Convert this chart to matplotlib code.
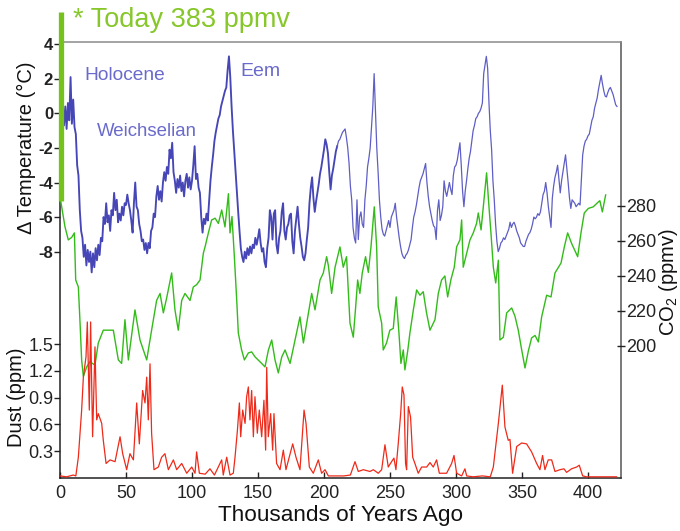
import numpy as np
import matplotlib
matplotlib.use("Agg")
import matplotlib.pyplot as plt

plt.rcParams['font.family'] = ['Liberation Sans', 'DejaVu Sans']
plt.rcParams['mathtext.fontset'] = 'custom'
plt.rcParams['mathtext.rm'] = 'Liberation Sans'
plt.rcParams['mathtext.default'] = 'rm'

# ---------------- data ----------------
# Temperature anomaly (deg C), one value per thousand years from 0 ka
temp_dC = [
    0.3, -0.5, 0.7, -0.7, 0.4, -0.9, 0.6, -0.4, 2.1, -0.6,
    0.8, -0.8, -1.2, -3.0, -3.6, -5.6, -6.8, -7.2, -8.3, -7.6,
    -8.8, -7.9, -8.6, -8.0, -9.2, -8.1, -8.9, -7.8, -8.5, -7.6,
    -8.2, -7.2, -7.4, -6.0, -6.4, -5.2, -6.3, -5.9, -6.8, -5.6,
    -5.9, -4.6, -5.6, -5.0, -6.3, -5.8, -6.2, -5.4, -5.9, -5.2,
    -5.3, -4.7, -5.2, -5.6, -6.2, -6.9, -5.2, -4.0, -5.4, -5.6,
    -6.4, -6.8, -7.4, -7.3, -7.9, -7.5, -8.1, -7.5, -7.8, -6.8,
    -6.6, -5.8, -6.0, -4.8, -4.2, -5.0, -4.5, -5.1, -4.0, -3.4,
    -3.9, -3.1, -3.5, -2.1, -2.6, -1.7, -3.4, -3.9, -4.6, -3.8,
    -4.3, -3.6, -4.5, -4.0, -4.8, -3.9, -3.5, -4.3, -3.7, -4.4,
    -3.9, -3.0, -1.9, -3.8, -3.5, -4.3, -4.6, -6.0, -6.9, -6.1,
    -6.4, -5.8, -6.2, -5.0, -3.9, -3.1, -2.4, -1.6, -1.1, -0.7,
    -0.3, -0.1, 0.4, 0.7, 1.0, 1.3, 1.5, 2.5, 3.3, 2.1,
    0.4, -1.0, -2.2, -3.5, -4.5, -5.7, -6.8, -7.8, -8.3, -8.6,
    -8.0, -8.4, -7.8, -8.2, -7.7, -8.1, -7.6, -7.8, -7.2, -7.6,
    -7.2, -6.7, -7.5, -8.0, -7.8, -8.6, -8.9, -7.8, -7.2, -5.6,
    -6.0, -7.3, -5.8, -5.6, -7.6, -8.1, -7.2, -6.8, -5.7, -5.2,
    -6.8, -7.3, -6.6, -6.4, -5.9, -5.8, -7.4, -8.1, -6.8, -6.1,
    -5.4, -6.4, -7.2, -7.7, -8.3, -8.5, -8.1, -7.3, -6.6, -5.2,
    -4.3, -3.7, -4.9, -5.7, -5.1, -4.6, -4.1, -3.5, -3.1, -2.6,
    -2.1, -1.5, -1.8, -2.3, -3.4, -4.4, -3.6, -3.2, -2.7, -2.2,
    -1.9, -1.6, -1.5, -1.3, -1.1, -1.0, -0.9, -1.4, -2.0, -2.9,
    -4.2, -5.0, -6.6, -7.2, -7.5, -5.0, -7.3, -6.0, -5.7, -6.4,
    -6.6, -5.0, -4.2, -3.1, -2.6, -2.0, -0.8, 0.4, 2.3, 0.2,
    -2.0, -3.4, -5.0, -6.0, -6.7, -7.0, -7.1, -6.8, -6.5, -6.2,
    -6.6, -6.0, -5.8, -5.6, -5.2, -6.0, -6.6, -7.2, -7.7, -8.1,
    -8.3, -8.4, -8.2, -8.1, -7.9, -7.6, -7.3, -6.6, -6.0, -5.7,
    -5.3, -4.8, -4.3, -3.9, -3.7, -3.5, -3.2, -2.9, -4.0, -4.8,
    -5.4, -5.8, -6.2, -6.5, -6.6, -7.3, -5.6, -5.0, -6.2, -5.9,
    -5.4, -3.9, -4.5, -4.8, -4.4, -4.0, -4.4, -4.7, -3.6, -3.1,
    -3.0, -2.7, -2.2, -1.7, -3.0, -4.5, -5.4, -4.5, -3.9, -3.2,
    -2.6, -2.2, -1.6, -1.0, -0.7, -0.3, -0.2, 0.0, 0.1, 0.3,
    0.6, 2.3, 2.8, 3.3, 2.6, 0.6, -1.0, -2.1, -3.9, -5.0,
    -6.4, -7.4, -8.0, -7.8, -7.5, -7.4, -7.2, -7.3, -7.1, -6.9,
    -6.7, -6.3, -6.6, -6.4, -6.3, -6.5, -6.8, -7.0, -7.2, -7.5,
    -7.6, -7.7, -7.7, -7.4, -7.2, -7.0, -6.9, -6.7, -6.4, -6.0,
    -6.1, -6.0, -5.8, -5.9, -5.7, -5.2, -4.7, -4.5, -4.0, -4.6,
    -5.4, -6.0, -6.6, -4.9, -4.2, -3.7, -3.4, -3.0, -3.8, -4.6,
    -3.9, -3.4, -2.9, -2.4, -3.2, -4.0, -4.9, -5.5, -5.0, -5.1,
    -5.2, -5.4, -5.3, -5.2, -5.3, -3.9, -2.4, -1.9, -1.6, -1.5,
    -1.3, -1.2, -0.8, -0.4, -0.2, 0.3, 0.6, 0.9, 1.4, 1.8,
    2.2, 1.7, 1.3, 1.0, 0.95, 1.2, 1.4, 1.5, 1.3, 1.1,
    0.8, 0.5, 0.4,
]
temp_age = np.arange(len(temp_dC))

co2_age = [0.5, 3.8, 6.3, 8.8, 10.9, 11.9, 13.9, 15.2, 16.4, 17.7, 20.2, 22.7, 26.5, 29, 32.8,
           40.4, 44.2, 46.7, 49.2, 51.8, 56.8, 60.6, 65.7, 69.4, 73.2, 75.8, 78.3, 80.8, 84.6,
           87.1, 89.6, 92.2, 94.7, 98.5, 101, 103.5, 106.1, 108.6, 109.9, 112.4, 114.9, 117.5,
           120, 122.5, 125, 127.6, 128.8, 130.3, 132.1, 133.9, 135.1, 137.6, 139.7, 142.7,
           145.2, 147.8, 152.8, 155.3, 157.9, 160.4, 162.9, 165.4, 168, 170.5, 174.3, 178.1,
           181.8, 184.4, 188.2, 190.7, 193.2, 197, 199.5, 202, 203.3, 205.8, 208.4, 212.1,
           214.6, 217.1, 219.7, 222.2, 224, 225.5, 227.2, 229, 231.5, 233.6, 235.6, 238.1,
           239.9, 241.1, 243.7, 244.9, 247.4, 249.9, 252.5, 254.7, 256.8, 258.3, 260.1, 261.3,
           263.4, 265.1, 267.7, 270.2, 272.7, 275.2, 277.7, 280.3, 284.1, 286.6, 289.1, 291.6,
           293.7, 296.2, 298.7, 300.5, 303, 304.3, 305.5, 308.1, 310.6, 313.1, 315.6, 316.9,
           319, 320.7, 323.2, 325, 326.5, 328.3, 330.1, 332.1, 333.3, 335.9, 338.4, 342.2,
           344.7, 347.2, 349.8, 352.3, 354.8, 357.3, 359.9, 362.4, 364.9, 368.7, 372, 375,
           379.6, 382.1, 384.6, 387.6, 392.2, 394.7, 397.2, 400.3, 404, 407.9, 409, 410.9, 413.4]
co2_ppmv = [283, 268, 260.6, 262, 264.6, 237.7, 233.7, 213, 192, 182.6, 188, 191, 189, 201.7, 209,
            209, 192, 190, 215, 192, 220.6, 203.4, 192, 209, 226, 230, 218.9, 227.4, 241.7,
            220.6, 209, 226, 230, 226, 233.7, 235, 237.7, 253, 256.6, 264.6, 272, 273,
            270, 277.7, 268, 287, 264.6, 274, 251, 226, 207.4, 197.7, 192, 196,
            196.6, 193.7, 190, 188, 197.7, 203.4, 192, 184.6, 193.7, 197.7, 190, 203.4,
            216.6, 201.7, 218.9, 230, 220.6, 237.7, 241.7, 251, 246, 230, 245, 256.6,
            245, 251, 213, 205, 222.3, 237.7, 230, 241.7, 251, 242, 256.6, 279.5,
            256.6, 222.3, 213, 197.7, 201.7, 209, 210, 228, 207.4, 190, 197.7, 186.3,
            197, 207.4, 220.6, 232, 229, 231, 218.9, 209, 215, 230, 237.7, 240,
            228, 238, 245, 256.6, 260.6, 272, 245, 253, 260.6, 264.6, 270, 276,
            266.3, 279.5, 298.9, 279.5, 264.6, 245, 236, 249, 203.4, 205, 218.9, 221.7,
            217, 209, 197.7, 187.4, 197, 204.6, 206, 202.3, 216.6, 229, 228, 241.7,
            247.4, 256.6, 264.6, 258.6, 251, 264.6, 276, 278.6, 279.5, 282.3, 283, 276.6, 286.3]

dust_age = [0, 5, 10, 12, 13.9, 16.4, 17.7, 19.7, 20.7, 22.2, 23.2, 24.7, 26.5, 27.8, 29.0, 31.6,
            32.8, 34.9, 37.9, 41.7, 45.5, 47.5, 50.5, 53.0, 55.6, 58.1, 60.1, 62.6, 64.4, 65.7,
            66.9, 68.2, 69.4, 71.2, 74.5, 77.0, 79.5, 82.1, 85.9, 88.4, 92.2, 96.0, 99.8, 102.3,
            103.5, 105.6, 110, 113.6, 117, 122.5, 123.7, 126.3, 128.8, 131.3, 132.6, 134.4,
            135.9, 136.9, 138.4, 140.2, 141.4, 142.7, 143.9, 145.2, 146.5, 147.7, 149.5, 151.0,
            152.8, 154.5, 155.8, 156.6, 157.8, 159.6, 161.1, 162.1, 164.1, 166.7, 169.2, 171.2,
            173.7, 176.3, 178.8, 181.8, 184.9, 186.4, 188.9, 191.9, 195.7, 198.2, 200.8, 203.3,
            212.1, 215, 220, 223.5, 226, 229.8, 234.8, 237.4, 241.1, 243.7, 246.2, 248.7, 251.2,
            253, 254.5, 256.3, 258.1, 259.3, 260.6, 261.8, 262.6, 263.9, 265.6, 267.2, 268.9,
            271.4, 274, 277.8, 280.3, 282.8, 285.3, 287.4, 292.9, 296.7, 298.5, 300.5, 304.3,
            306.8, 308.1, 313, 320, 326, 328.3, 332.1, 335.1, 337.1, 339.6, 340.9, 342.9, 346,
            349.7, 353.5, 357.3, 361.1, 363.6, 365.6, 367.4, 369.9, 372.5, 375, 378.8, 381.8,
            383.8, 387.6, 391.4, 393.4, 396, 399, 410, 421.7]
dust_ppm = [0.02, 0.01, 0.03, 0.02, 0.23, 0.76, 1.13, 1.36, 1.75, 0.76, 1.75, 0.46, 1.47, 0.65, 0.72, 0.61,
            0.42, 0.16, 0.2, 0.18, 0.46, 0.27, 0.09, 0.27, 0.2, 0.84, 0.38, 0.98, 0.84, 1.13,
            0.65, 1.28, 0.5, 0.09, 0.12, 0.23, 0.27, 0.09, 0.2, 0.09, 0.16, 0.05, 0.12, 0.05,
            0.29, 0.05, 0.04, 0.1, 0.03, 0.2, 0.03, 0.23, 0.03, 0.05, 0.23, 0.53,
            0.84, 0.46, 0.76, 0.61, 0.91, 1.02, 0.65, 0.98, 0.46, 0.91, 0.5, 0.76,
            0.46, 0.87, 0.31, 1.24, 0.46, 0.72, 0.31, 0.72, 0.16, 0.09, 0.31, 0.09,
            0.23, 0.38, 0.23, 0.09, 0.76, 0.61, 0.12, 0.05, 0.2, 0.05, 0.09, 0.02,
            0.02, 0.02, 0.03, 0.18, 0.07, 0.09, 0.07, 0.09, 0.05, 0.09, 0.37, 0.12, 0.18,
            0.22, 0.09, 0.39, 0.72, 1.02, 0.93, 0.16, 0.09, 0.8, 0.68, 0.23, 0.16,
            0.05, 0.12, 0.12, 0.17, 0.12, 0.2, 0.05, 0.05, 0.16, 0.25, 0.05, 0.02,
            0.1, 0.02, 0.01, 0.02, 0.01, 0.12, 0.61, 1.04, 0.57, 0.42, 0.43, 0.05, 0.35,
            0.39, 0.38, 0.29, 0.16, 0.09, 0.25, 0.09, 0.2, 0.2, 0.07, 0.09, 0.1,
            0.06, 0.1, 0.12, 0.14, 0.02, 0.01, 0.01, 0.01]

x_ticks = [0, 50, 100, 150, 200, 250, 300, 350, 400]
temp_ticks = [-8, -6, -4, -2, 0, 2, 4]
temp_ticklabels = ['-8', '-6', '-4', '-2', '0', '2', '4']
co2_ticks = [200, 220, 240, 260, 280]
dust_ticks = [0.3, 0.6, 0.9, 1.2, 1.5]
dust_ticklabels = ['0.3', '0.6', '0.9', '1.2', '1.5']
today_label = '* Today 383 ppmv'

# ---------------- layout / style ----------------
W, H = 680, 531
fig = plt.figure(figsize=(W / 100, H / 100), dpi=100)
L, R, T, B = 60, 620.7, 42, 477.7
rect = [L / W, 1 - B / H, (R - L) / W, (B - T) / H]

TEMP_C = '#4646B6'
TEMP_C2 = '#5E5EC6'
CO2_C = '#33BB1A'
DUST_C = '#EE2A1A'
LABEL_C = '#6A6ACC'
TODAY_C = '#86C72A'
BAR_C = '#76C11C'
SPLIT = 210  # dense (thick) record before this age, sparser after

ax_t = fig.add_axes(rect)
ax_c = ax_t.twinx()
ax_d = ax_t.twinx()

ax_t.set_xlim(0, 424.8)
ax_t.set_ylim(-21.08, 4.13)
ax_c.set_ylim(124.7, 373.7)
ax_d.set_ylim(0, 4.896)

ax_t.plot(temp_age[:SPLIT + 1], temp_dC[:SPLIT + 1], color=TEMP_C, lw=1.35, zorder=3)
ax_t.plot(temp_age[SPLIT:], temp_dC[SPLIT:], color=TEMP_C2, lw=0.9, zorder=3)
ax_c.plot(co2_age, co2_ppmv, color=CO2_C, lw=1.0, zorder=3)
ax_d.plot(dust_age, dust_ppm, color=DUST_C, lw=0.9, zorder=3)

# spines
for a in (ax_c, ax_d):
    for s in a.spines.values():
        s.set_visible(False)
ax_t.spines['top'].set_color('#8a8a8a')
ax_t.spines['right'].set_color('#555555')
ax_t.spines['left'].set_color('#222222')
ax_t.spines['bottom'].set_color('#222222')
for s in ax_t.spines.values():
    s.set_linewidth(1.1)

# x ticks
ax_t.set_xticks(x_ticks)
ax_t.set_xticklabels([str(v) for v in x_ticks])
ax_t.tick_params(axis='x', direction='in', length=4, width=1, pad=5,
                 labelsize=13, colors='#222222', top=False)
ax_c.tick_params(axis='x', bottom=False, labelbottom=False)
ax_d.tick_params(axis='x', bottom=False, labelbottom=False)

# temperature ticks (left)
ax_t.set_yticks(temp_ticks)
ax_t.set_yticklabels(temp_ticklabels, fontweight='bold')
ax_t.tick_params(axis='y', direction='out', length=4, width=1, pad=1,
                 labelsize=12, colors='#222222')

# dust ticks (left)
ax_d.yaxis.tick_left()
ax_d.set_yticks(dust_ticks)
ax_d.set_yticklabels(dust_ticklabels)
ax_d.tick_params(axis='y', direction='out', length=4, width=1, pad=1,
                 labelsize=13, colors='#222222', right=False, labelright=False)

# CO2 ticks (right)
ax_c.set_yticks(co2_ticks)
ax_c.set_yticklabels([str(v) for v in co2_ticks])
ax_c.tick_params(axis='y', direction='inout', length=6, width=1, pad=1,
                 labelsize=13, colors='#222222')

# axis labels
fig.text(340.5 / W, 1 - 521 / H, 'Thousands of Years Ago', ha='center', va='baseline',
         fontsize=16.2, color='#111111')
fig.text(26 / W, 1 - 148 / H, 'Δ Temperature (°C)', rotation=90, ha='center', va='center',
         fontsize=14.5, color='#111111')
fig.text(17 / W, 1 - 397 / H, 'Dust (ppm)', rotation=90, ha='center', va='center',
         fontsize=14.5, color='#111111')
fig.text(668 / W, 1 - 282 / H, r'CO$_2$ (ppmv)', rotation=90, ha='center', va='center',
         fontsize=14.5, color='#111111')

# period annotations
ax_t.text(18.2, 2.2, 'Holocene', color=LABEL_C, fontsize=13.8, ha='left', va='center')
ax_t.text(28.0, -1.07, 'Weichselian', color=LABEL_C, fontsize=13.4, ha='left', va='center')
ax_t.text(136.4, 2.4, 'Eem', color=LABEL_C, fontsize=14, ha='left', va='center')

# today marker bar and label
ax_c.plot([1.1, 1.1], [co2_ppmv[0], 391], color=BAR_C, lw=3.8, clip_on=False,
          solid_capstyle='butt', zorder=5)
fig.text(73 / W, 1 - 26.7 / H, today_label, color=TODAY_C, fontsize=19.5,
         ha='left', va='baseline')

fig.savefig('out.png', dpi=100)
